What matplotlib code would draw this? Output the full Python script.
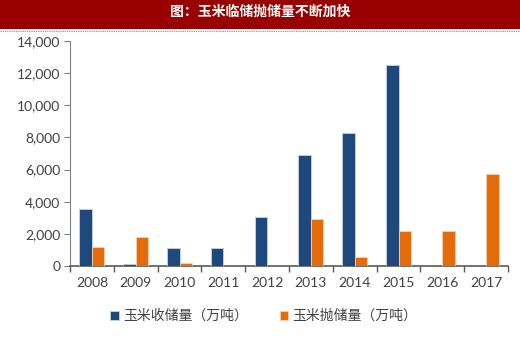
import matplotlib
matplotlib.use("Agg")
import matplotlib.pyplot as plt
import numpy as np
from matplotlib.ticker import FuncFormatter, FixedLocator

plt.rcParams['font.family'] = ['Lato', 'Noto Sans CJK SC', 'DejaVu Sans']

years = ['2008', '2009', '2010', '2011', '2012', '2013', '2014', '2015', '2016', '2017']
shouchu = [3550, 100, 1100, 1100, 3050, 6900, 8300, 12500, 0, 0]
paochu = [1200, 1800, 200, 0, 0, 2900, 550, 2150, 2150, 5750]
labels = ['玉米收储量（万吨）', '玉米抛储量（万吨）']
title = '图：玉米临储抛储量不断加快'

blue = '#1F497D'
orange = '#E46C0A'
txt = '#404040'

fig = plt.figure(figsize=(5.2, 3.39), dpi=100)
fig.patch.set_facecolor('white')

# title banner
fig.patches.append(plt.Rectangle((0, 1 - 29 / 339), 1, 29 / 339, transform=fig.transFigure,
                                 facecolor='#990000', edgecolor='none', zorder=0))
fig.lines.append(plt.Line2D([0, 1], [1 - 30.5 / 339, 1 - 30.5 / 339], transform=fig.transFigure,
                            color='#9080B0', lw=0.8, ls=(0, (1, 1))))
fig.text(0.5, 1 - 12 / 339, title, ha='center', va='center', color='white',
         fontsize=10, fontweight='bold', family=['Noto Sans CJK SC', 'DejaVu Sans'])

ax = fig.add_axes([70 / 520, 1 - 266 / 339, (508 - 70) / 520, (266 - 41) / 339])
x = np.arange(len(years))
w = 0.285
ax.bar(x - w / 2, shouchu, w, color=blue, edgecolor='#C8D4E6', linewidth=0.6, label=labels[0], zorder=3)
ax.bar(x + w / 2, paochu, w, color=orange, edgecolor='#F8D0B0', linewidth=0.6, label=labels[1], zorder=3)

ax.set_xlim(-0.5, len(years) - 0.5)
ax.set_ylim(0, 14000)
ax.set_yticks(np.arange(0, 14001, 2000))
ax.yaxis.set_major_formatter(FuncFormatter(lambda v, p: f'{int(v):,}'))
ax.set_xticks(x)
ax.set_xticklabels(years)
ax.xaxis.set_minor_locator(FixedLocator(np.arange(-0.5, len(years), 1)))
ax.tick_params(axis='x', which='major', length=0, pad=8, labelsize=10, labelcolor=txt)
ax.tick_params(axis='x', which='minor', length=4, direction='out', color='#595959', width=1)
ax.tick_params(axis='y', length=4, direction='out', color='#808080', labelsize=10, labelcolor=txt, pad=3)

for s in ['top', 'right']:
    ax.spines[s].set_visible(False)
ax.spines['left'].set_color('#808080')
ax.spines['bottom'].set_color('#595959')
ax.spines['bottom'].set_linewidth(1.2)

leg = fig.legend(loc='center', bbox_to_anchor=(0.507, 1 - 316 / 339), ncol=2, frameon=False,
                 prop={'family': ['Noto Sans CJK SC', 'DejaVu Sans'], 'size': 10},
                 handlelength=0.6, handleheight=0.6, handletextpad=0.3, columnspacing=2.3)
for t in leg.get_texts():
    t.set_color(txt)

fig.savefig('out.png', dpi=100, facecolor='white')
